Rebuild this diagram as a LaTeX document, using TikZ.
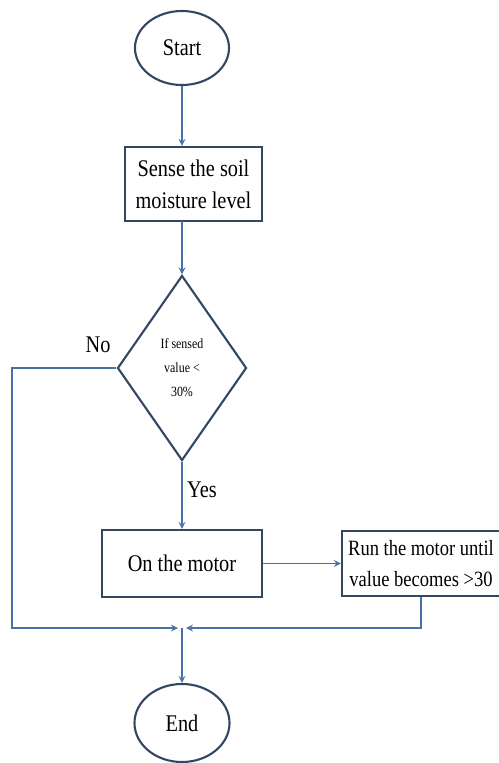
\documentclass[tikz,border=0pt]{standalone}
\usepackage{fontspec}
\setmainfont{Liberation Serif}[FakeStretch=0.85]
\usetikzlibrary{shapes.geometric}
\definecolor{boxline}{RGB}{50,72,98}
\definecolor{flowline}{RGB}{74,112,168}

\begin{document}
\begin{tikzpicture}[x=0.025cm,y=-0.025cm]
        \useasboundingbox (0,0) rectangle (499,763);
        \begin{scope}[every node/.style={draw=boxline,line width=1.5pt,align=center,inner sep=0pt,font=\fontsize{17}{23}\selectfont}]
                \node[ellipse,minimum width=2.35cm,minimum height=1.85cm] (S) at (182,48) {Start};
                \node[rectangle,minimum width=3.425cm,minimum height=1.85cm] (M) at (193.5,184) {Sense the soil\\moisture level};
                \node[diamond,minimum width=3.225cm,minimum height=4.625cm,aspect=0.7,font=\fontsize{10}{17}\selectfont] (D) at (182,368) {If sensed\\value <\\30\%};
                \node[rectangle,minimum width=4cm,minimum height=1.675cm] (O) at (182,563.5) {On the motor};
                \node[rectangle,minimum width=3.95cm,minimum height=1.625cm,font=\fontsize{15.5}{22}\selectfont] (R) at (421,563.5) {Run the motor until\\value becomes >30};
                \node[ellipse,minimum width=2.375cm,minimum height=1.95cm] (E) at (182,723) {End};
        \end{scope}
        \node[font=\fontsize{17}{20}\selectfont] (No) at (98,345) {No};
        \node[font=\fontsize{17}{20}\selectfont] (Yes) at (202,490) {Yes};
        \coordinate (J) at (182,628);
        \coordinate (Jl) at (178,628);
        \coordinate (Jr) at (186,628);
        \coordinate (Lc) at (12,628);
        \coordinate (Mb) at (182,221);
        \begin{scope}[flow/.style={draw=flowline,line width=1.2pt,->,>=stealth}]
                \draw[flow] (S.south) -- (S.south |- M.north);
                \draw[flow] (Mb) -- (D.north);
                \draw[flow] (D.south) -- (O.north);
                \draw[flow] (O.east) -- (R.west);
                \draw[flow] (D.west) -| (Lc) -- (Jl);
                \draw[flow] (R.south) |- (Jr);
                \draw[flow] (J) -- (E.north);
        \end{scope}
\end{tikzpicture}
\end{document}
